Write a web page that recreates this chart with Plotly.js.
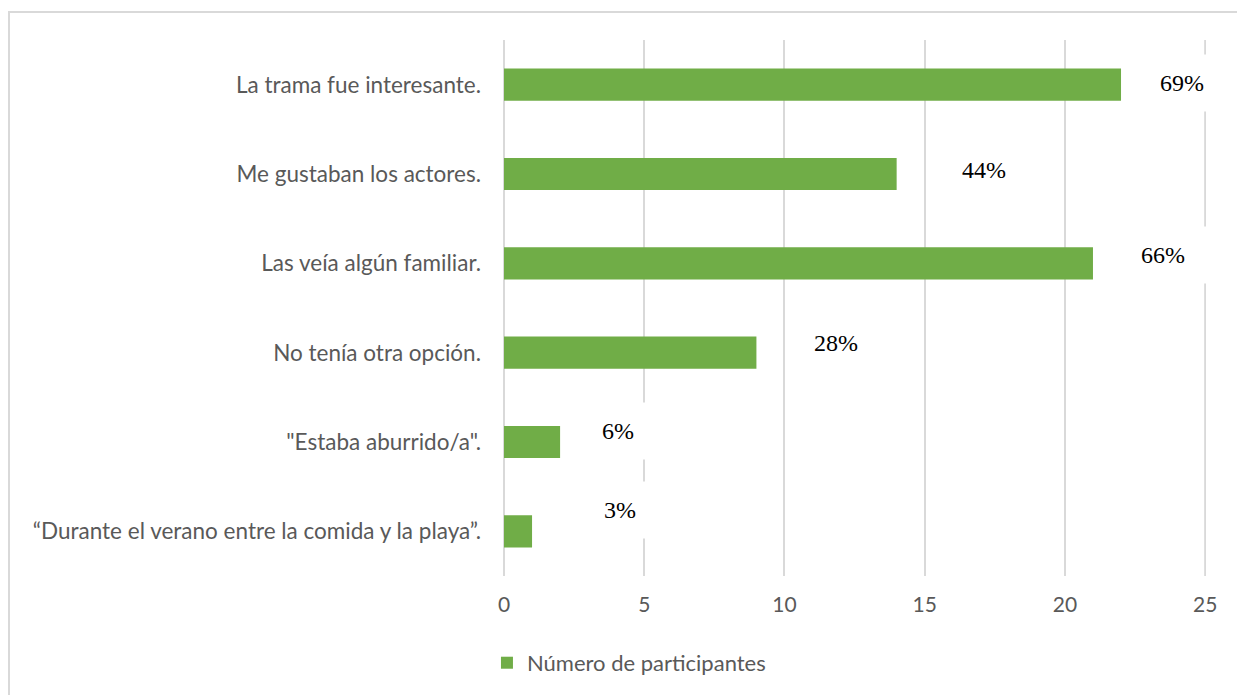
<!DOCTYPE html>
<html>
<head>
<meta charset="utf-8">
<script src="https://cdn.plot.ly/plotly-3.0.1.min.js"></script>
<style>
  html, body { margin: 0; padding: 0; background: #ffffff; overflow: hidden; }
  #frame { position: absolute; left: 8px; top: 11px; width: 1240px; height: 700px; border-left: 2px solid #d9d9d9; border-top: 2px solid #d9d9d9; }
  #chart { position: absolute; left: 0; top: 0; width: 1237px; height: 695px; }
</style>
</head>
<body>
<div id="frame"></div>
<div id="chart"></div>
<script>
// Data
const categories = [
  "La trama fue interesante.",
  "Me gustaban los actores.",
  "Las veía algún familiar.",
  "No tenía otra opción.",
  "\"Estaba aburrido/a\".",
  "“Durante el verano entre la comida y la playa”."
];
const participantes = [22, 14, 21, 9, 2, 1];
const percentLabels = ["69%", "44%", "66%", "28%", "6%", "3%"];
const xTicks = [0, 5, 10, 15, 20, 25];
const seriesName = "Número de participantes";

// Layout-only placement of the percentage labels
const labelX = [24.18, 17.13, 23.5, 11.82, 4.08, 4.13];
const labelShift = [2, 4, 8, 10, 11, 21];

const annotations = percentLabels.map((t, i) => ({
  x: labelX[i], y: i, xref: 'x', yref: 'y',
  text: t, showarrow: false, yshift: labelShift[i],
  font: { family: 'Liberation Serif, Times New Roman, serif', size: 24, color: '#000000' },
  bgcolor: '#ffffff', width: 92, height: 54, align: 'center', valign: 'middle'
}));

const trace = {
  type: 'bar', orientation: 'h',
  x: participantes, y: categories.map((c, i) => i),
  name: seriesName,
  marker: { color: '#70ad47' },
  showlegend: true,
  hoverinfo: 'x+y'
};

const maxTick = xTicks[xTicks.length - 1];
const font = 'Lato, "Open Sans", sans-serif';
const layout = {
  width: 1237, height: 695,
  paper_bgcolor: 'rgba(0,0,0,0)', plot_bgcolor: 'rgba(0,0,0,0)',
  margin: { l: 504, r: 31, t: 40, b: 118, pad: 0 },
  bargap: 0.64,
  showlegend: true,
  legend: {
    orientation: 'h', x: 0.178, xanchor: 'center', y: -0.16, yanchor: 'middle',
    font: { family: font, size: 22, color: '#595959' }
  },
  xaxis: {
    range: [0, 25.03], tickvals: xTicks, ticktext: xTicks.map(String),
    showgrid: true, gridcolor: '#d9d9d9', gridwidth: 2,
    zeroline: true, zerolinecolor: '#d9d9d9', zerolinewidth: 2,
    showline: false, ticks: '',
    tickfont: { family: font, size: 21, color: '#595959' },
    ticklabelstandoff: 14
  },
  yaxis: {
    type: 'linear', range: [5.5, -0.5],
    tickvals: categories.map((c, i) => i), ticktext: categories,
    showgrid: false, zeroline: false, showline: false, ticks: '',
    tickfont: { family: font, size: 22.5, color: '#595959' },
    ticklabelstandoff: 22
  },
  shapes: [{
    type: 'line', layer: 'below', xref: 'x', yref: 'paper',
    x0: maxTick, x1: maxTick, y0: 0, y1: 1,
    line: { color: '#d9d9d9', width: 2 }
  }],
  annotations: annotations
};

Plotly.newPlot('chart', [trace], layout, { displayModeBar: false, responsive: false });
</script>
</body>
</html>
